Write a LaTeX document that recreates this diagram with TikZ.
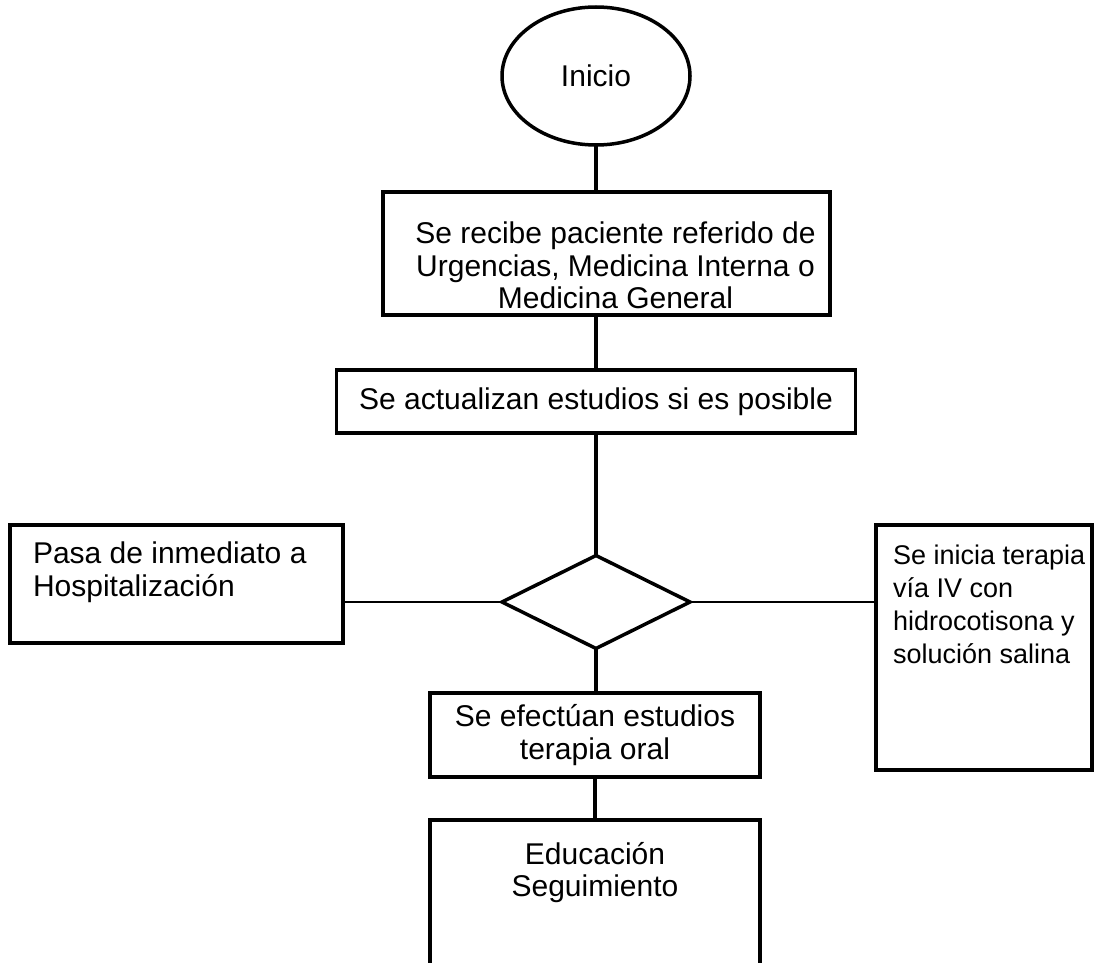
\documentclass[tikz,border=0pt]{standalone}
\usepackage{fontspec}
\setmainfont{Liberation Sans}
\usetikzlibrary{shapes.geometric}

\begin{document}
\begin{tikzpicture}[line cap=round,x=1pt,y=-1pt,
	every node/.style={font=\fontsize{30}{32.5}\selectfont},
	caja/.style={draw,rectangle,line width=3.5pt,inner sep=0pt,outer sep=0pt,align=center},
	inicio/.style={draw,ellipse,line width=3.5pt,inner sep=0pt,outer sep=0pt,minimum width=188pt,minimum height=138pt},
	rombo/.style={draw,diamond,line width=3.5pt,inner sep=0pt,outer sep=0pt,minimum width=188pt,minimum height=93pt},
	grueso/.style={line width=3.5pt},
	fino/.style={line width=1.5pt}]
	\useasboundingbox (0,0) rectangle (1119,963);
	\clip (0,0) rectangle (1119,963);
	\node[inicio] (inicio) at (596,76) {Inicio};
	\node[caja,anchor=north west,inner ysep=30pt] (recibe) at (383,192) {\hspace*{18pt}\parbox[t][63pt][t]{429pt}{\centering Se recibe paciente referido de\\Urgencias, Medicina Interna o\\Medicina General}};
	\node[caja,minimum width=519pt,minimum height=63pt] (actualiza) at (596,401.5) {Se actualizan estudios si es posible};
	\node[rombo] (decision) at (596,602) {};
	\node[caja,anchor=north west,inner xsep=23pt,inner ysep=17pt] (hosp) at (10,525) {\parbox[t][84pt][t]{287pt}{\raggedright Pasa de inmediato a\\Hospitalización}};
	\node[caja,anchor=north west,inner xsep=17pt,inner ysep=20pt,font=\fontsize{27}{33}\selectfont] (iv) at (876,525) {\parbox[t][205pt][t]{182pt}{\raggedright\mbox{Se inicia terapia}\\\mbox{vía IV con}\\\mbox{hidrocotisona y}\\\mbox{solución salina}}};
	\node[caja,minimum width=330pt,minimum height=84pt] (efectua) at (595,735) {Se efectúan estudios\\terapia oral};
	\node[caja,anchor=north,inner xsep=15pt,inner ysep=22pt] (educa) at (595,820) {\parbox[t][136pt][t]{300pt}{\centering Educación\\Seguimiento}};
	\draw[grueso] (inicio.south) -- (inicio.south |- recibe.north);
	\draw[grueso] (inicio.south |- recibe.south) -- (actualiza.north);
	\draw[grueso] (actualiza.south) -- (decision.north);
	\draw[grueso] (decision.south) -- (decision.south |- efectua.north);
	\draw[grueso] (efectua.south) -- (educa.north);
	\draw[fino] (decision.west) -- (decision.west -| hosp.east);
	\draw[fino] (decision.east) -- (decision.east -| iv.west);
\end{tikzpicture}
\end{document}
